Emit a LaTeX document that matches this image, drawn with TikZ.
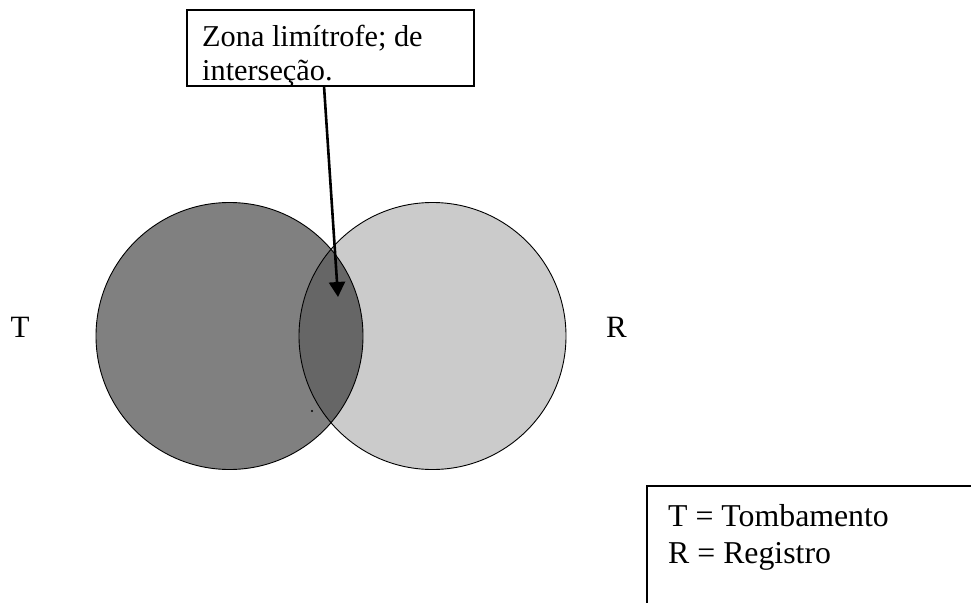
\documentclass[tikz,border=0pt]{standalone}
\usepackage{fontspec}
\setmainfont{Liberation Serif}
\usetikzlibrary{arrows.meta}
\definecolor{tgray}{HTML}{808080}
\definecolor{rgray}{HTML}{CBCBCB}
\definecolor{igray}{HTML}{666666}
\tikzset{
  txt/.style={anchor=base west, inner sep=0pt, font=\fontsize{31pt}{36pt}\selectfont},
  boxtxt/.style={anchor=base west, inner sep=0pt, font=\fontsize{30.3pt}{33pt}\selectfont},
  legtxt/.style={anchor=base west, inner sep=0pt, font=\fontsize{31.8pt}{36pt}\selectfont},
  boxframe/.style={draw=black, line width=1.6pt, inner sep=0pt},
  pointer/.style={draw=black, line width=2.6pt, -{Triangle[length=15pt,width=16pt]}},
  setline/.style={draw=black, line width=0.9pt}
}
\begin{document}
\begin{tikzpicture}[x=1pt, y=-1pt]
  \useasboundingbox (0,0) rectangle (971,602);
  % circles
  \fill[tgray] (229.5,336) circle[radius=133.5];
  \fill[rgray] (432.5,336) circle[radius=133.5];
  \begin{scope}
    \clip (229.5,336) circle[radius=133.5];
    \fill[igray] (432.5,336) circle[radius=133.5];
  \end{scope}
  \draw[setline] (229.5,336) circle[radius=133.5];
  \draw[setline] (432.5,336) circle[radius=133.5];
  \fill[black] (312,411) circle[radius=1.2];
  % labels
  \node[txt] (T) at (10.5,337) {T};
  \node[txt] (R) at (606,337) {R};
  % top box
  \node[boxframe, minimum width=287pt, minimum height=76pt] (zona) at (330.5,48) {};
  \node[boxtxt] (z1) at (202,46.7) {Zona limítrofe; de};
  \node[boxtxt] (z2) at (202,80) {interseção.};
  \coordinate (a0) at (324,86);
  \coordinate (tip) at (338,297);
  \draw[pointer] (a0) -- (tip);
  % legend box (cut by the page edge)
  \begin{scope}
    \clip (0,0) rectangle (971,602);
    \draw[line width=1.6pt] (647,640) -- (647,486) -- (1000,486);
  \end{scope}
  \node[legtxt] (l1) at (668,526.7) {T = Tombamento};
  \node[legtxt] (l2) at (668,563.3) {R = Registro};
\end{tikzpicture}
\end{document}
